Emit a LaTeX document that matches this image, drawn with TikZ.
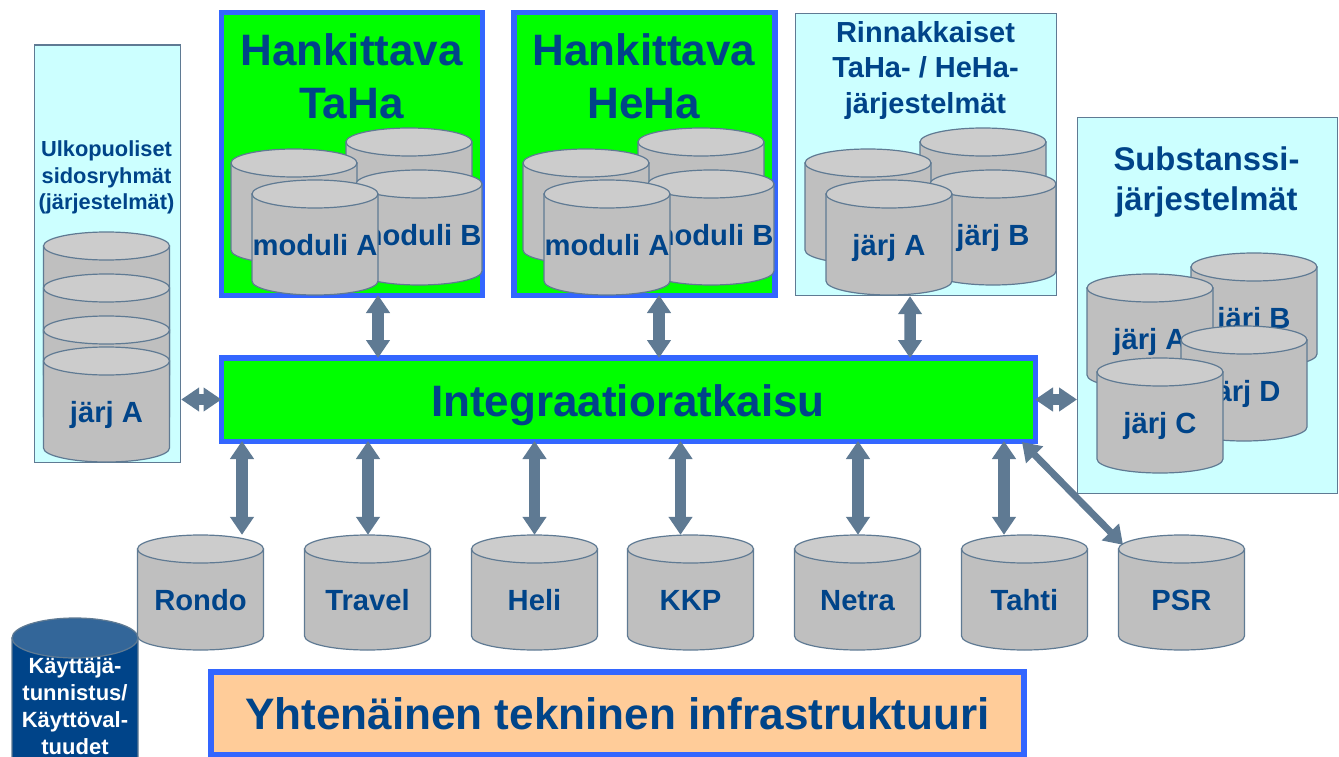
\documentclass[tikz,border=0pt]{standalone}
\usepackage{fontspec}
\setmainfont{Liberation Sans}
\usetikzlibrary{arrows.meta}

\definecolor{linkgray}{HTML}{5F7A93}
\definecolor{darkblue}{HTML}{004489}
\definecolor{boxblue}{HTML}{3366FF}
\definecolor{panelcyan}{HTML}{CCFFFF}
\definecolor{bodygray}{HTML}{BFBFBF}
\definecolor{topgray}{HTML}{CCCCCC}
\definecolor{peach}{HTML}{FFCC99}
\definecolor{topblue}{HTML}{336699}

\def\cylh{115}
\def\cylr{14}

\tikzset{
  cylbody/.style={draw=linkgray,line width=1.2pt,fill=bodygray},
  cyltop/.style={draw=linkgray,line width=1.2pt,fill=topgray},
  cylbox/.style={minimum width=126pt,minimum height=\cylh pt,inner sep=0pt},
  cyllabel/.style={anchor=base,inner sep=0pt,text=darkblue,font=\fontsize{29.2}{29.2}\selectfont\bfseries},
  panel/.style={draw=linkgray,line width=1.2pt,fill=panelcyan,anchor=north west,inner sep=0pt},
  bluebox/.style={draw=boxblue,line width=5.5pt,anchor=north west,inner sep=0pt},
  title/.style={text=darkblue,align=center,inner sep=0pt},
  link/.style={draw=linkgray,line width=11.5pt,
    {Triangle[length=18pt,width=23pt,fill=linkgray]}-{Triangle[length=18pt,width=23pt,fill=linkgray]}}
}

% [scope options]{name}{x}{y}{label}, x and y give the top of the cylinder
\newcommand{\dbcyl}[5][]{
  \begin{scope}[shift={(#3,#4)},#1]
    \draw[cylbody] (-63,\cylr) -- (-63,\cylh-\cylr)
      arc[x radius=63pt,y radius=\cylr pt,start angle=180,end angle=360]
      -- (63,\cylr) -- cycle;
    \draw[cyltop] (0,\cylr) ellipse[x radius=63pt,y radius=\cylr pt];
    \node[cylbox] (#2) at (0,\cylh/2) {};
    \node[cyllabel] (#2text) at (0,75) {#5};
  \end{scope}
}

\begin{document}
\begin{tikzpicture}[x=1pt,y=-1pt]
  \useasboundingbox (0,0) rectangle (1339,757);
  \clip (0,0) rectangle (1339,757);

  % left panel
  \node[panel,minimum width=146.5pt,minimum height=417.5pt] (extpanel) at (33.5,44.5) {};
  \node[title,font=\fontsize{21.8}{26.3}\selectfont\bfseries] (exttitle) at (106.5,177.5) {Ulkopuoliset\\sidosryhmät\\(järjestelmät)};
  \dbcyl{ext1}{106.5}{232}{}
  \dbcyl{ext2}{106.5}{274}{}
  \dbcyl{ext3}{106.5}{316}{}
  \dbcyl{ext4}{106.5}{347}{järj A}

  % TaHa
  \node[bluebox,fill=green,minimum width=261pt,minimum height=282.5pt] (taha) at (218.5,10) {};
  \node[title,font=\fontsize{44}{53}\selectfont\bfseries] (tahatitle) at (351.5,76) {Hankittava\\TaHa};
  \dbcyl{taha1}{409}{128}{}
  \dbcyl{taha2}{294}{149}{}
  \dbcyl{tahab}{419}{170}{moduli B}
  \dbcyl{tahaa}{315}{180}{moduli A}

  % HeHa
  \node[bluebox,fill=green,minimum width=261pt,minimum height=282.5pt] (heha) at (511,10) {};
  \node[title,font=\fontsize{44}{53}\selectfont\bfseries] (hehatitle) at (644,76) {Hankittava\\HeHa};
  \dbcyl{heha1}{701}{128}{}
  \dbcyl{heha2}{586}{149}{}
  \dbcyl{hehab}{711}{170}{moduli B}
  \dbcyl{hehaa}{607}{180}{moduli A}

  % parallel systems
  \node[panel,minimum width=261pt,minimum height=282pt] (parpanel) at (795,13) {};
  \node[title,font=\fontsize{29}{35.5}\selectfont\bfseries] (partitle) at (925.5,70.5) {Rinnakkaiset\\TaHa- / HeHa-\\järjestelmät};
  \dbcyl{par1}{983}{128}{}
  \dbcyl{par2}{868}{149}{}
  \dbcyl{parb}{993}{170}{järj B}
  \dbcyl{para}{889}{180}{järj A}

  % substance systems
  \node[panel,minimum width=260pt,minimum height=376pt] (subpanel) at (1077,117) {};
  \node[title,font=\fontsize{32.8}{40.5}\selectfont\bfseries] (subtitle) at (1206.5,182) {Substanssi-\\järjestelmät};
  \dbcyl{subb}{1254}{253}{järj B}
  \dbcyl{suba}{1150}{274}{järj A}
  \dbcyl{subd}{1244}{326}{järj D}
  \dbcyl{subc}{1160}{358}{järj C}

  % integration
  \node[bluebox,fill=green,minimum width=814pt,minimum height=83.5pt] (integ) at (218.5,355) {};
  \node[title,font=\fontsize{44}{44}\selectfont\bfseries] (integtitle) at (628,405) {Integraatioratkaisu};

  % bottom row
  \dbcyl{rondo}{200.5}{535}{Rondo}
  \dbcyl{travel}{367.5}{535}{Travel}
  \dbcyl{heli}{534.5}{535}{Heli}
  \dbcyl{kkp}{690.5}{535}{KKP}
  \dbcyl{netra}{857.5}{535}{Netra}
  \dbcyl{tahti}{1024.5}{535}{Tahti}
  \dbcyl{psr}{1181.5}{535}{PSR}

  {\def\cylh{170}\def\cylr{20}
  \dbcyl[cylbody/.append style={fill=darkblue},cyltop/.append style={fill=topblue}]{auth}{75}{618}{}}
  \node[title,text=white,font=\fontsize{22}{27}\selectfont\bfseries] (authtitle) at (75,706) {Käyttäjä-\\tunnistus/\\Käyttöval-\\tuudet};

  \node[bluebox,fill=peach,minimum width=813pt,minimum height=82.5pt] (infra) at (208,669) {};
  \node[title,font=\fontsize{44.1}{44.1}\selectfont\bfseries] (infratitle) at (617.5,714) {Yhtenäinen tekninen infrastruktuuri};

  % links
  \draw[link] ([xshift=26.25pt,yshift=3pt]taha.south) -- ([xshift=-250.25pt,yshift=-3pt]integ.north);
  \draw[link] ([xshift=14.75pt,yshift=3pt]heha.south) -- ([xshift=30.75pt,yshift=-3pt]integ.north);
  \draw[link] ([xshift=-16.1pt]parpanel.south) -- ([xshift=281.75pt,yshift=-3pt]integ.north);
  \draw[link] (extpanel.east |- integ.west) -- ([xshift=3pt]integ.west);
  \draw[link] ([xshift=-3pt]integ.east) -- (subpanel.west |- integ.east);
  \draw[link] ([xshift=-386.25pt,yshift=3pt]integ.south) -- ([xshift=41.5pt]rondo.north);
  \draw[link] ([xshift=-260.25pt,yshift=3pt]integ.south) -- ([xshift=.5pt]travel.north);
  \draw[link] ([xshift=-93.75pt,yshift=3pt]integ.south) -- (heli.north);
  \draw[link] ([xshift=52.25pt,yshift=3pt]integ.south) -- ([xshift=-10pt]kkp.north);
  \draw[link] ([xshift=229.75pt,yshift=3pt]integ.south) -- ([xshift=.5pt]netra.north);
  \draw[link] ([xshift=375.75pt,yshift=3pt]integ.south) -- ([xshift=-20.5pt]tahti.north);
  \draw[link,line width=7pt] ([xshift=393.75pt,yshift=2pt]integ.south) -- ([xshift=-58.5pt,yshift=-10pt]psr.north);
\end{tikzpicture}
\end{document}
